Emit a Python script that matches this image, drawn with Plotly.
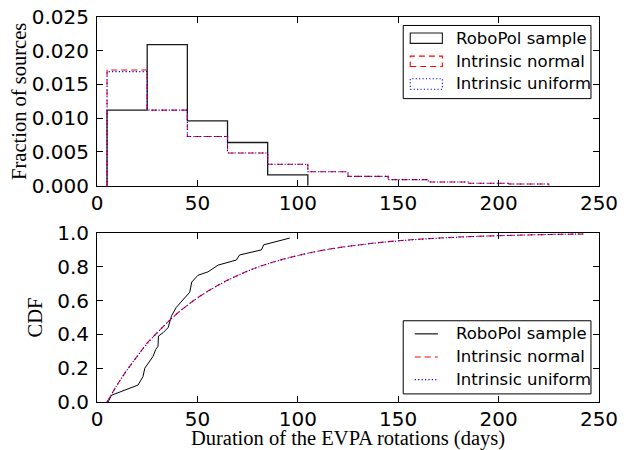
import plotly.graph_objects as go

# ---------------- data ----------------
robopol_edges = [5, 25, 45, 65, 85, 105]
robopol_frac = [0.0112, 0.0209, 0.0096, 0.0064, 0.0016]

intr_edges = [5, 25, 45, 65, 85, 105, 125, 145, 165, 185, 205, 225]
normal_frac = [0.01715, 0.0112, 0.0073, 0.00485, 0.00318, 0.00207, 0.00138, 0.00090, 0.00056, 0.00036, 0.00025]
uniform_frac = [0.01690, 0.0112, 0.0073, 0.00485, 0.00318, 0.00207, 0.00138, 0.00090, 0.00056, 0.00036, 0.00025]

robopol_cdf_x = [5.5, 7.2, 20.4, 22.9, 23.8, 27.9, 29.2, 30.4, 30.6, 32.9, 35.4, 37.1, 39.5,
                 46.2, 47.2, 50.3, 55.3, 60.3, 69.4, 71.0, 81.9, 83.0, 96.0]
robopol_cdf = [0.0, 0.04, 0.10, 0.15, 0.20, 0.27, 0.31, 0.33, 0.39, 0.41, 0.44, 0.51, 0.56,
               0.65, 0.71, 0.75, 0.77, 0.81, 0.84, 0.87, 0.90, 0.93, 0.97]

intr_cdf_x = [5, 10, 15, 20, 25, 30, 35, 40, 45, 50, 60, 70, 80, 90, 100, 110, 120, 140,
              160, 180, 200, 225, 243]
normal_cdf = [0.0, 0.10, 0.19, 0.27, 0.35, 0.41, 0.47, 0.525, 0.573, 0.616, 0.689, 0.749,
              0.798, 0.836, 0.867, 0.893, 0.913, 0.943, 0.963, 0.976, 0.984, 0.991, 0.994]
uniform_cdf = [0.0, 0.10, 0.19, 0.27, 0.345, 0.41, 0.47, 0.524, 0.572, 0.615, 0.688, 0.748,
               0.797, 0.835, 0.866, 0.892, 0.912, 0.942, 0.962, 0.975, 0.984, 0.991, 0.994]

x_ticks = [0, 50, 100, 150, 200, 250]
frac_ticks = [0.0, 0.005, 0.010, 0.015, 0.020, 0.025]
cdf_ticks = [0.0, 0.2, 0.4, 0.6, 0.8, 1.0]

legend_labels = ["RoboPol sample", "Intrinsic normal", "Intrinsic uniform"]


def step_xy(edges, heights):
    xs = [edges[0]] + list(edges)
    ys = [0] + list(heights) + [heights[-1]]
    xs.append(edges[-1])
    ys.append(0)
    return xs, ys


BLACK = "#000000"
RED = "#ff0000"
BLUE = "#0000ff"
DASH = "6px,4px"
DOT = "1.2px,2.2px"

fig = go.Figure()

# top histograms (step outlines)
for edges, h, col, dash in [
    (robopol_edges, robopol_frac, "#1a1a1a", "solid"),
    (intr_edges, normal_frac, RED, DASH),
    (intr_edges, uniform_frac, BLUE, DOT),
]:
    xs, ys = step_xy(edges, h)
    fig.add_trace(go.Scatter(x=xs, y=ys, mode="lines",
                             line=dict(color=col, width=1.3 if dash == "solid" else 1.1, dash=dash, shape="hv"),
                             xaxis="x", yaxis="y", showlegend=False, hoverinfo="skip"))

# bottom CDFs
fig.add_trace(go.Scatter(x=robopol_cdf_x, y=robopol_cdf, mode="lines", line=dict(color=BLACK, width=1),
                         xaxis="x2", yaxis="y2", showlegend=False))
fig.add_trace(go.Scatter(x=intr_cdf_x, y=normal_cdf, mode="lines",
                         line=dict(color=RED, width=1.1, dash=DASH, shape="spline"),
                         xaxis="x2", yaxis="y2", showlegend=False))
fig.add_trace(go.Scatter(x=intr_cdf_x, y=uniform_cdf, mode="lines",
                         line=dict(color=BLUE, width=1.1, dash=DOT, shape="spline"),
                         xaxis="x2", yaxis="y2", showlegend=False))

tickfont = dict(family="DejaVu Sans", size=20, color="black")
titlefont = dict(family="Liberation Serif", size=20.5, color="black")

common_x = dict(range=[0, 250], tickvals=x_ticks, ticktext=[str(v) for v in x_ticks],
                ticks="inside", ticklen=6, tickwidth=1, tickcolor="black", mirror="ticks",
                showline=True, linecolor="black", linewidth=1, showgrid=False, zeroline=False,
                tickfont=tickfont, ticklabelstandoff=-1, automargin=False, ticklabeloverflow="allow")
common_y = dict(ticks="inside", ticklen=6, tickwidth=1, tickcolor="black", mirror="ticks",
                showline=True, linecolor="black", linewidth=1, showgrid=False, zeroline=False,
                tickfont=tickfont, ticklabelstandoff=3, automargin=False, ticklabeloverflow="allow")

top_dom = [0.5618, 1.0]
bot_dom = [0.0, 0.439]

# the page body has an 8px margin, so the figure is 8px smaller than the window
fig.update_layout(
    width=623, height=442,
    margin=dict(l=89, r=32, t=9, b=48),
    paper_bgcolor="white", plot_bgcolor="white",
    xaxis=dict(domain=[0, 1], anchor="y", **common_x),
    yaxis=dict(domain=top_dom, anchor="x", range=[0, 0.025], tickvals=frac_ticks,
               ticktext=["%.3f" % v for v in frac_ticks],
               title=dict(text="Fraction of sources", font=titlefont, standoff=9), **common_y),
    xaxis2=dict(domain=[0, 1], anchor="y2",
                title=dict(text="Duration of the EVPA rotations (days)", font=titlefont, standoff=7), **common_x),
    yaxis2=dict(domain=bot_dom, anchor="x2", range=[0, 1], tickvals=cdf_ticks,
                ticktext=["%.1f" % v for v in cdf_ticks],
                title=dict(text="CDF", font=titlefont, standoff=9), **common_y),
    showlegend=False,
)

# ---- custom legends (paper coords) ----
legfont = dict(family="DejaVu Sans", size=16.5, color="black")
styles = [("#1a1a1a", "solid"), (RED, DASH), (BLUE, DOT)]

# top legend: rectangles
fig.add_shape(type="rect", xref="paper", yref="paper", x0=0.610, x1=0.984, y0=0.788, y1=0.978,
              line=dict(color="black", width=1), fillcolor="white", layer="above")
top_rows = [0.945, 0.885, 0.826]
for (col, dash), yy, lab in zip(styles, top_rows, legend_labels):
    fig.add_shape(type="rect", xref="paper", yref="paper", x0=0.624, x1=0.688, y0=yy - 0.0135, y1=yy + 0.0135,
                  line=dict(color=col, width=1.1, dash=dash), fillcolor="rgba(0,0,0,0)", layer="above")
    fig.add_annotation(x=0.712, y=yy, xref="paper", yref="paper", text=lab, showarrow=False,
                       xanchor="left", yanchor="middle", font=legfont)

# bottom legend: lines
fig.add_shape(type="rect", xref="paper", yref="paper", x0=0.610, x1=0.984, y0=0.021, y1=0.211,
              line=dict(color="black", width=1), fillcolor="white", layer="above")
bot_rows = [0.177, 0.117, 0.058]
for (col, dash), yy, lab in zip(styles, bot_rows, legend_labels):
    fig.add_shape(type="line", xref="paper", yref="paper", x0=0.633, x1=0.679, y0=yy, y1=yy,
                  line=dict(color=col if dash != "solid" else BLACK, width=1.1, dash=dash), layer="above")
    fig.add_annotation(x=0.712, y=yy, xref="paper", yref="paper", text=lab, showarrow=False,
                       xanchor="left", yanchor="middle", font=legfont)

fig.write_html("out.html")
